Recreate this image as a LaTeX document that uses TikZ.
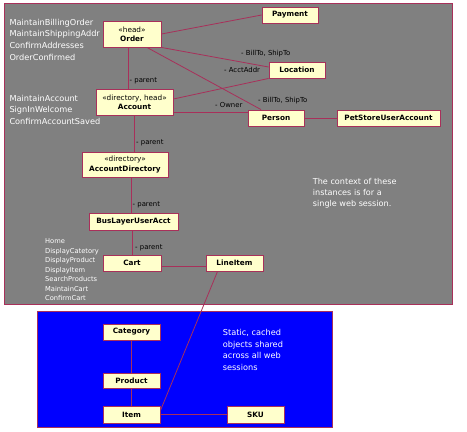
\documentclass[tikz,border=0pt]{standalone}
\usepackage{fontspec}
\setmainfont{DejaVu Sans}
\usepackage{tikz}
\definecolor{CtxGray}{HTML}{808080}
\definecolor{CtxEdge}{HTML}{A8305A}
\definecolor{CtxBox}{HTML}{FFFFCC}
\definecolor{CtxBlue}{HTML}{0000FF}

\begin{document}
\begin{tikzpicture}[x=1pt,y=-1pt,
  obj/.style={draw=CtxEdge,fill=CtxBox,line width=.9pt,inner sep=0pt,align=center,text=black,font=\fontsize{7.3}{9.3}\selectfont\bfseries},
  assoc/.style={draw=CtxEdge,line width=.8pt},
  role/.style={anchor=west,inner sep=0pt,text=black,font=\fontsize{6.9}{8}\selectfont},
  note/.style={anchor=north west,inner sep=0pt,align=left,text=white}]
\path[use as bounding box] (0,0) rectangle (467,432);
\fill[white] (0,0) rectangle (467,432);
\filldraw[fill=CtxGray,draw=CtxEdge,line width=.9pt] (4,3) rectangle (452,304);
\filldraw[fill=CtxBlue,draw=CtxEdge,line width=.9pt] (37,311) rectangle (332,427);
\node[obj,minimum width=58pt,minimum height=26pt] (order) at (132,34) {{\mdseries «head»}\\Order};
\node[obj,minimum width=56pt,minimum height=16pt] (payment) at (290,15) {Payment};
\node[obj,minimum width=56pt,minimum height=16pt] (location) at (297,70) {Location};
\node[obj,minimum width=56pt,minimum height=16pt] (person) at (276,118) {Person};
\node[obj,minimum width=103pt,minimum height=16pt] (petstore) at (388.5,118) {PetStoreUserAccount};
\node[obj,minimum width=77pt,minimum height=26pt] (account) at (134.5,102) {{\mdseries «directory, head»}\\Account};
\node[obj,minimum width=86pt,minimum height=25pt] (acctdir) at (125,164.5) {{\mdseries «directory»}\\AccountDirectory};
\node[obj,minimum width=89pt,minimum height=17pt] (buslayer) at (133.5,221.5) {BusLayerUserAcct};
\node[obj,minimum width=58pt,minimum height=16pt] (cart) at (132,263) {Cart};
\node[obj,minimum width=57pt,minimum height=16pt] (lineitem) at (234.5,263) {LineItem};
\node[obj,minimum width=57pt,minimum height=16pt] (category) at (131.5,332) {Category};
\node[obj,minimum width=57pt,minimum height=15pt] (product) at (131.5,380.5) {Product};
\node[obj,minimum width=57pt,minimum height=17pt] (item) at (131.5,414.5) {Item};
\node[obj,minimum width=57pt,minimum height=17pt] (sku) at (255.5,414.5) {SKU};
\draw[assoc] (order.east) -- (payment.west);
\draw[assoc] (order.south east) -- ([yshift=3pt]location.west);
\draw[assoc] ([xshift=15pt]order.south) -- ([xshift=-15pt]person.north);
\draw[assoc] ([xshift=-4pt]order.south) -- ([xshift=-4pt]order.south |- account.north);
\draw[assoc] ([yshift=3pt]account.east) -- (location.south west);
\draw[assoc] ([yshift=-10pt]account.east) -- ([yshift=-10pt]account.east -| person.west);
\draw[assoc] (person.east) -- (petstore.west);
\draw[assoc] (account.south) -- (account.south |- acctdir.north);
\draw[assoc] ([xshift=-2.5pt]buslayer.north |- acctdir.south) -- ([xshift=-2.5pt]buslayer.north);
\draw[assoc] (cart.north) -- (cart.north |- buslayer.south);
\draw[assoc] ([yshift=-3pt]cart.east) -- ([yshift=-3pt]lineitem.west);
\draw[assoc] ([xshift=-17pt]lineitem.south) -- ([yshift=4pt]item.east);
\draw[assoc] (category.south) -- (product.north);
\draw[assoc] (product.south) -- (item.north);
\draw[assoc] (item.east) -- (sku.west);
\node[role] (parentA) at (129.5,81) {- parent};
\node[role] (parentB) at (136,143) {- parent};
\node[role] (parentC) at (132.5,205) {- parent};
\node[role] (parentD) at (135,247.7) {- parent};
\node[role] (billtoA) at (241,54) {- BillTo, ShipTo};
\node[role] (acctaddr) at (224,70) {- AcctAddr};
\node[role] (billtoB) at (258,101) {- BillTo, ShipTo};
\node[role] (owner) at (215,105) {- Owner};
\node[note,font=\fontsize{8.2}{11.67}\selectfont] (orderflow) at (9.3,18.8) {MaintainBillingOrder\\MaintainShippingAddr\\ConfirmAddresses\\OrderConfirmed};
\node[note,font=\fontsize{8.2}{11.67}\selectfont] (accountflow) at (9.3,94.8) {MaintainAccount\\SignInWelcome\\ConfirmAccountSaved};
\node[note,font=\fontsize{6.7}{9.5}\selectfont] (cartflow) at (45,238.5) {Home\\DisplayCatetory\\DisplayProduct\\DisplayItem\\SearchProducts\\MaintainCart\\ConfirmCart};
\node[note,font=\fontsize{8.1}{11.3}\selectfont] (sessionnote) at (312.7,177.8) {The context of these\\instances is for a\\single web session.};
\node[note,font=\fontsize{8.2}{11.5}\selectfont] (staticnote) at (222.7,329.4) {Static, cached\\objects shared\\across all web\\sessions};
\end{tikzpicture}
\end{document}
